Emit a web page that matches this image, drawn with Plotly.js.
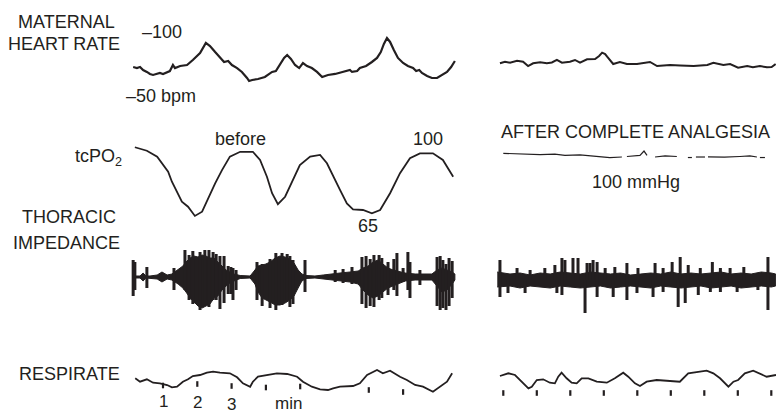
<!DOCTYPE html>
<html><head><meta charset="utf-8">
<script src="https://cdn.plot.ly/plotly-3.0.1.min.js"></script>
<style>html,body{margin:0;padding:0;background:#fff;}#chart{width:776px;height:413px;}</style>
</head><body><div id="chart"></div>
<script>
// ---------- DATA (time in minutes, values in trace units) ----------
// Maternal heart rate, bpm
const hrBeforeT = [0.13,0.24,0.33,0.42,0.53,0.62,0.71,0.83,0.91,1.00,1.12,1.20,1.29,1.35,1.50,1.70,1.87,2.08,2.25,2.37,2.52,2.66,2.78,2.90,3.01,3.16,3.30,3.45,3.51,3.60,3.77,3.97,4.18,4.29,4.41,4.53,4.62,4.73,4.85,4.97,5.08,5.20,5.34,5.49,5.64,5.81,6.02,6.25,6.45,6.51,6.66,6.74,6.92,7.09,7.24,7.35,7.44,7.53,7.62,7.73,7.85,8.00,8.14,8.29,8.38,8.47,8.55,8.70,8.84,8.99,9.13,9.28,9.40,9.51];
const hrBeforeBpm = [72.2,71.4,72.2,69.8,68.3,66.7,65.9,66.7,67.5,66.7,68.3,69.0,73.8,71.4,73.0,73.8,77.8,83.3,91.3,88.9,84.1,79.4,76.2,77.0,73.8,71.4,68.3,63.5,61.1,61.9,62.7,64.3,68.3,69.0,74.6,79.4,81.7,78.6,73.8,71.4,75.4,73.0,71.4,68.3,64.3,65.9,66.7,68.3,69.8,68.3,69.0,71.4,73.0,76.2,79.4,84.1,90.5,95.2,92.1,85.7,79.4,75.4,73.0,71.4,69.0,69.8,67.5,65.1,63.5,63.5,65.9,68.3,72.2,77.0];
const hrAfterT = [-0.10,0.05,0.20,0.41,0.59,0.74,0.89,1.10,1.30,1.45,1.60,1.75,1.99,2.14,2.29,2.50,2.74,2.86,2.95,3.04,3.10,3.28,3.48,3.69,3.99,4.38,4.59,4.98,5.28,5.68,6.09,6.27,6.57,6.77,7.01,7.28,7.45,7.66,7.87,8.01,8.13];
const hrAfterBpm = [75.2,76.4,75.6,77.2,76.4,73.0,75.2,76.0,75.2,75.8,77.8,75.6,76.4,77.8,75.6,78.3,78.6,81.0,83.6,82.5,80.4,74.6,76.2,74.6,74.6,76.2,73.0,73.8,73.4,73.0,73.8,75.6,73.8,74.6,71.7,73.0,72.0,73.0,72.0,72.2,74.6];

// tcPO2, mmHg
const tcBeforeT = [0.18,0.53,0.83,1.00,1.15,1.26,1.41,1.55,1.73,1.93,2.14,2.31,2.52,2.72,2.95,3.25,3.62,3.83,4.03,4.18,4.35,4.56,4.76,4.99,5.29,5.58,5.78,5.96,6.16,6.36,6.54,6.83,7.09,7.33,7.62,7.91,8.20,8.49,8.87,9.16,9.46];
const tcBeforeMmHg = [103.3,101.3,97.9,93.1,89.3,83.5,77.8,72.1,69.2,63.9,66.3,74.0,82.6,90.2,97.9,100.7,100.7,96.0,86.4,76.9,70.6,74.9,83.5,93.1,97.9,98.9,94.1,86.4,78.8,71.1,67.7,67.3,65.4,67.3,76.9,88.4,97.0,99.8,99.8,96.0,86.4];
const tcAfterT = [0.00,0.50,1.10,1.54,1.84,2.29,2.74,3.18,3.54,null,3.69,4.08,4.20,4.29,null,4.53,4.83,5.18,null,5.51,5.63,null,5.75,6.02,null,6.11,6.60,7.06,7.36,7.57,null,7.66,7.81];
const tcAfterMmHg = [99.8,99.4,99.1,99.4,98.6,98.9,98.3,97.4,97.7,null,98.0,98.6,101.1,98.6,null,97.7,98.3,98.0,null,97.4,97.4,null,97.7,97.7,null,97.8,97.6,98.0,98.3,97.7,null,97.4,97.4];

// Thoracic impedance (arbitrary units): envelope and excursions
const impBeforeT = [0.13,0.33,0.42,0.50,0.62,0.83,0.97,1.12,1.26,1.44,1.58,1.67,1.79,1.90,2.02,2.14,2.25,2.37,2.49,2.60,2.72,2.84,2.95,3.07,3.25,3.54,3.68,3.77,3.89,4.00,4.12,4.27,4.41,4.56,4.70,4.82,4.94,5.05,5.17,5.43,5.67,5.87,6.16,6.45,6.69,6.83,6.98,7.12,7.27,7.41,7.56,7.71,7.85,8.06,8.35,8.64,8.84,8.99,9.13,9.28,9.43,9.51];
const impBeforeUpper = [1,1,4,1,1,2,5,2,3,7,11,15,19,21,20,22,21,19,19,15,11,7,5,3,1.5,1,7,11,12,13,15,19,21,20,18,14,7,3,1.5,1,2,3,4,5,6,9,11,15,17,13,9,7,6,4,3,3,3,7,9,7,5,3];
const impBeforeLower = [-1,-1,-4,-1,-1,-2,-5,-2,-3,-7,-11,-15,-21,-25,-29,-31,-29,-27,-21,-19,-13,-9,-6,-4,-1.5,-1,-7,-15,-21,-23,-25,-28,-28,-26,-23,-19,-11,-4,-1.5,-1,-2,-3,-4,-5,-7,-13,-18,-21,-19,-15,-11,-9,-7,-4,-3,-3,-3,-9,-15,-13,-7,-3];
const spkBeforeT = [0.13,0.18,0.53,1.32,1.64,1.76,1.87,2.08,2.22,2.34,2.46,2.55,2.66,2.78,2.90,2.98,3.04,3.13,3.74,3.89,4.12,4.29,4.47,4.62,4.70,4.79,5.14,6.02,6.25,6.51,6.80,6.92,7.04,7.15,7.30,7.38,7.56,7.73,7.82,8.00,8.14,8.20,8.49,8.99,9.08,9.16,9.25,9.34,9.43];
const spkBeforeTop = [17,15,10,9,27,22,26,25,27,27,25,23,21,21,11,10,9,7,15,13,18,24,24,23,21,17,17,7,8,10,20,21,18,22,22,19,15,18,24,9,25,15,7,20,21,17,13,19,16];
const spkBeforeBottom = [-19,-13,-11,-13,-13,-23,-27,-33,-23,-30,-23,-23,-32,-26,-17,-17,-23,-13,-23,-29,-31,-33,-28,-23,-30,-27,-15,-5,-6,-7,-27,-31,-29,-30,-23,-21,-18,-13,-19,-5,-13,-21,-8,-29,-33,-31,-33,-29,-21];
const impAfterT = [-0.18,0.2,0.5,0.8,1.1,1.4,1.7,2.0,2.3,2.6,2.9,3.2,3.5,3.8,4.1,4.4,4.7,5.0,5.3,5.6,5.9,6.2,6.5,6.8,7.1,7.4,7.7,8.0,8.13];
const impAfterUpper = [8,6,7,5,7,6,8,7,6,8,7,6,7,5,6,7,6,8,6,7,6,7,8,6,7,6,8,7,6];
const impAfterLower = [-7,-6,-8,-6,-7,-8,-6,-7,-8,-7,-6,-8,-7,-6,-7,-8,-6,-7,-8,-7,-6,-8,-7,-6,-8,-7,-6,-7,-6];
const spkAfterT = [-0.10,0.14,0.41,0.65,0.80,1.24,1.54,1.60,1.75,1.84,2.08,2.23,2.44,2.50,2.59,2.68,2.80,3.04,3.28,3.33,3.69,3.99,4.02,4.47,4.53,4.77,5.04,5.22,5.28,5.43,5.52,5.82,5.88,6.18,6.24,6.48,6.77,6.98,7.18,7.60,7.90];
const spkAfterTop = [20,0,12,0,10,12,15,0,22,20,22,22,0,17,17,20,18,12,0,13,17,0,12,0,17,12,18,0,23,0,15,0,12,0,18,12,12,0,13,0,23];
const spkAfterBottom = [-17,-13,0,-13,0,0,0,-13,-15,0,0,0,-33,0,0,0,-17,0,-17,0,-20,-13,0,-17,0,-12,0,-27,0,-23,0,-15,0,-12,0,-12,0,-12,0,-10,-30];

// Respirate (arbitrary units)
const respBeforeT = [0.19,0.33,0.53,0.71,0.91,1.12,1.26,1.41,1.58,1.73,1.87,2.08,2.28,2.46,2.66,2.95,3.16,3.33,3.54,3.62,3.77,4.03,4.32,4.62,4.91,5.08,5.34,5.58,5.81,5.96,6.16,6.54,6.74,6.95,7.24,7.41,7.62,7.91,8.11,8.35,8.58,8.87,9.08,9.28,9.43];
const respBeforeV = [1.7,-1.7,0.7,-2.7,-3.3,-5.0,-7.3,-6.7,-1.7,0.7,4.0,5.0,7.3,8.3,7.3,6.7,2.7,-3.3,-6.7,-1.7,3.3,5.0,6.7,6.0,3.3,-1.7,-6.7,-9.3,-10.0,-8.3,-6.7,-6.0,-3.3,5.0,10.0,6.7,9.3,3.3,0.0,-5.0,-6.7,-11.7,-6.7,-1.7,6.7];
const respAfterT = [-0.10,0.15,0.35,0.55,0.75,0.85,1.00,1.19,1.39,1.54,1.64,1.74,1.89,2.04,2.19,2.34,2.54,2.79,3.09,3.33,3.58,3.73,3.93,4.08,4.28,4.58,4.98,5.27,5.52,5.77,6.07,6.27,6.47,6.72,6.87,7.01,7.21,7.46,7.66,7.86,8.14];
const respAfterV = [4.0,6.7,5.0,-1.7,-8.3,-6.7,0.0,0.7,-2.7,-3.3,3.3,7.3,1.7,-2.7,-3.3,1.7,1.7,-1.7,-2.7,1.7,7.3,3.3,-3.3,-6.0,-1.7,0.0,-0.7,-1.7,6.7,7.7,9.3,6.7,1.7,-6.7,-1.7,0.0,6.7,9.3,6.7,3.3,5.0];
const minuteMarksBeforeT = [1,2,3,4,5,7,8];
const minuteMarksBeforeV = [-5.5,-4,-6,-7.5,-6.5,-10,-12];
const minuteMarksAfterT = [0,1,2,3,4,5,6,7,8];
const minuteMarksAfterV = [-13,-13,-13,-13,-13,-13,-13,-13,-13];
const minuteLabels = ["1","2","3"];

// ---------- STYLE / LAYOUT ----------
const W = 776, H = 413;
const INK = '#231f20';
const FONT = 'Liberation Sans, Arial, Helvetica, sans-serif';

function xax(p0, p1, originPx, pxPerMin, anchor) {
  return {domain: [p0 / W, p1 / W], range: [(p0 - originPx) / pxPerMin, (p1 - originPx) / pxPerMin],
          visible: false, fixedrange: true, anchor: anchor};
}
function yax(topPx, botPx, refPx, refVal, pxPerUnit, anchor) {
  return {domain: [1 - botPx / H, 1 - topPx / H],
          range: [refVal - (botPx - refPx) / pxPerUnit, refVal + (refPx - topPx) / pxPerUnit],
          visible: false, fixedrange: true, anchor: anchor};
}

function line(x, y, xa, ya, w) {
  return {type: 'scatter', mode: 'lines', x: x, y: y, xaxis: xa, yaxis: ya,
          line: {color: INK, width: w, shape: 'linear'}, hoverinfo: 'skip'};
}
function envelope(t, up, lo, xa, ya) {
  const x = t.concat(t.slice().reverse());
  const y = up.concat(lo.slice().reverse());
  return {type: 'scatter', mode: 'lines', x: x, y: y, xaxis: xa, yaxis: ya, fill: 'toself',
          fillcolor: INK, line: {color: INK, width: 1}, hoverinfo: 'skip'};
}
function spikes(t, top, bot, xa, ya) {
  const x = [], y = [];
  for (let i = 0; i < t.length; i++) { x.push(t[i], t[i], null); y.push(top[i], bot[i], null); }
  return {type: 'scatter', mode: 'lines', x: x, y: y, xaxis: xa, yaxis: ya,
          line: {color: INK, width: 3}, hoverinfo: 'skip'};
}
function marks(t, v, xa, ya) {
  return {type: 'scatter', mode: 'markers', x: t, y: v, xaxis: xa, yaxis: ya, hoverinfo: 'skip',
          marker: {symbol: 'line-ns', size: 4, line: {color: INK, width: 2.2}}};
}

const data = [
  line(hrBeforeT, hrBeforeBpm, 'x', 'y', 2.2),
  line(hrAfterT, hrAfterBpm, 'x2', 'y2', 2.0),
  line(tcBeforeT, tcBeforeMmHg, 'x', 'y3', 1.8),
  line(tcAfterT, tcAfterMmHg, 'x2', 'y4', 1.2),
  envelope(impBeforeT, impBeforeUpper, impBeforeLower, 'x', 'y5'),
  spikes(spkBeforeT, spkBeforeTop, spkBeforeBottom, 'x', 'y5'),
  envelope(impAfterT, impAfterUpper, impAfterLower, 'x2', 'y6'),
  spikes(spkAfterT, spkAfterTop, spkAfterBottom, 'x2', 'y6'),
  line(respBeforeT, respBeforeV, 'x', 'y7', 1.8),
  line(respAfterT, respAfterV, 'x2', 'y8', 1.8),
  marks(minuteMarksBeforeT, minuteMarksBeforeV, 'x', 'y7'),
  marks(minuteMarksAfterT, minuteMarksAfterV, 'x2', 'y8')
];

function note(text, px, py, xanchor, size) {
  return {text: text, xref: 'paper', yref: 'paper', x: px / W, y: 1 - py / H,
          xanchor: xanchor || 'center', yanchor: 'middle', showarrow: false,
          font: {family: FONT, size: size || 18, color: INK}};
}
const annotations = [
  note('MATERNAL', 66.5, 22),
  note('HEART RATE', 64, 44),
  note('\u2013100', 162, 32),
  note('\u201350 bpm', 160.5, 96),
  note('tcPO<sub>2</sub>', 124, 157, 'right'),
  note('before', 240, 139),
  note('100', 428, 139),
  note('65', 368, 226),
  note('AFTER COMPLETE ANALGESIA', 635, 131.5),
  note('100 mmHg', 636, 181.5),
  note('THORACIC', 68.5, 217.5),
  note('IMPEDANCE', 66, 242.5),
  note('RESPIRATE', 69.5, 373.5)
];
const minuteLabelY = [401, 402, 404];
minuteLabels.forEach(function (s, i) {
  annotations.push({text: s, xref: 'x', yref: 'paper', x: i + 1, y: 1 - minuteLabelY[i] / H,
    xanchor: 'center', yanchor: 'middle', showarrow: false, font: {family: FONT, size: 17, color: INK}});
});
annotations.push({text: 'min', xref: 'x', yref: 'paper', x: 4.67, y: 1 - 403.5 / H,
  xanchor: 'center', yanchor: 'middle', showarrow: false, font: {family: FONT, size: 17, color: INK}});

const layout = {
  width: W, height: H, margin: {l: 0, r: 0, t: 0, b: 0},
  paper_bgcolor: '#ffffff', plot_bgcolor: 'rgba(0,0,0,0)', showlegend: false,
  xaxis: xax(116, 462, 128.7, 34.3, 'y'),
  xaxis2: xax(485, 776, 503.3, 33.5, 'y2'),
  yaxis: yax(8, 112, 32, 100, 1.26, 'x'),
  yaxis2: yax(8, 112, 32, 100, 1.26, 'x2'),
  yaxis3: yax(138, 228, 153, 100, 1.743, 'x'),
  yaxis4: yax(138, 228, 153, 100, 1.743, 'x2'),
  yaxis5: yax(245, 318, 277, 0, 1, 'x'),
  yaxis6: yax(245, 318, 280, 0, 1, 'x2'),
  yaxis7: yax(360, 400, 380, 0, 1, 'x'),
  yaxis8: yax(360, 400, 380, 0, 1, 'x2'),
  annotations: annotations
};

Plotly.newPlot('chart', data, layout, {staticPlot: true, displayModeBar: false});
</script></body></html>
